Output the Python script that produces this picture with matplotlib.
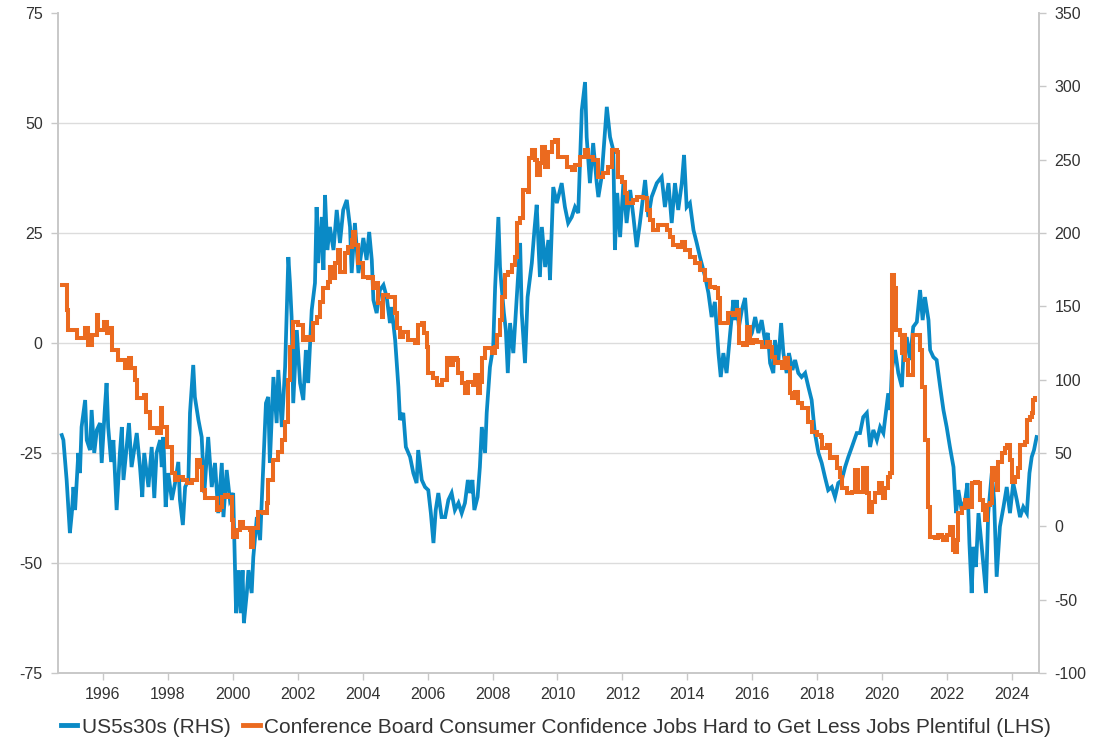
import matplotlib
matplotlib.use("Agg")
import matplotlib.pyplot as plt
from matplotlib.lines import Line2D

# ---------------- data (decimal years) ----------------
orange_years = [1994.73, 1994.88, 1994.93, 1995.19, 1995.45, 1995.55, 1995.65, 1995.81, 1995.86, 1996.04,
                1996.11, 1996.22, 1996.27, 1996.45, 1996.47, 1996.68, 1996.80, 1996.86, 1996.99, 1997.04,
                1997.27, 1997.32, 1997.45, 1997.65, 1997.79, 1997.83, 1997.96, 1998.06, 1998.12, 1998.22,
                1998.32, 1998.47, 1998.58, 1998.73, 1998.89, 1998.99, 1999.04, 1999.14, 1999.45, 1999.50,
                1999.60, 1999.66, 1999.76, 1999.86, 1999.96, 2000.01, 2000.12, 2000.22, 2000.32, 2000.53,
                2000.55, 2000.63, 2000.78, 2000.94, 2001.04, 2001.09, 2001.20, 2001.25, 2001.40, 2001.51,
                2001.61, 2001.71, 2001.76, 2001.86, 2002.02, 2002.17, 2002.28, 2002.38, 2002.48, 2002.58,
                2002.69, 2002.79, 2002.94, 2002.99, 2003.10, 2003.15, 2003.25, 2003.30, 2003.46, 2003.56,
                2003.66, 2003.71, 2003.76, 2003.87, 2003.97, 2004.02, 2004.17, 2004.28, 2004.33, 2004.43,
                2004.48, 2004.59, 2004.64, 2004.79, 2004.89, 2005.00, 2005.05, 2005.15, 2005.25, 2005.41,
                2005.61, 2005.70, 2005.82, 2005.90, 2005.97, 2006.02, 2006.18, 2006.28, 2006.43, 2006.59,
                2006.69, 2006.79, 2006.90, 2006.95, 2007.05, 2007.15, 2007.25, 2007.41, 2007.46, 2007.54,
                2007.61, 2007.69, 2007.77, 2007.92, 2007.97, 2008.08, 2008.13, 2008.23, 2008.28, 2008.38,
                2008.49, 2008.59, 2008.69, 2008.74, 2008.85, 2008.95, 2009.08, 2009.12, 2009.21, 2009.31,
                2009.36, 2009.46, 2009.52, 2009.62, 2009.72, 2009.82, 2009.92, 2010.03, 2010.18, 2010.29,
                2010.44, 2010.54, 2010.69, 2010.85, 2010.95, 2011.10, 2011.26, 2011.41, 2011.57, 2011.67,
                2011.83, 2011.88, 2011.98, 2012.08, 2012.13, 2012.34, 2012.44, 2012.65, 2012.75, 2012.85,
                2012.95, 2013.11, 2013.26, 2013.37, 2013.47, 2013.57, 2013.72, 2013.83, 2013.93, 2014.08,
                2014.24, 2014.39, 2014.55, 2014.70, 2014.85, 2014.96, 2015.01, 2015.21, 2015.26, 2015.42,
                2015.52, 2015.59, 2015.73, 2015.83, 2015.93, 2016.03, 2016.14, 2016.29, 2016.45, 2016.55,
                2016.60, 2016.70, 2016.80, 2016.91, 2017.01, 2017.09, 2017.16, 2017.24, 2017.32, 2017.42,
                2017.54, 2017.68, 2017.73, 2017.83, 2017.99, 2018.12, 2018.16, 2018.30, 2018.40, 2018.50,
                2018.60, 2018.70, 2018.76, 2018.91, 2019.07, 2019.17, 2019.27, 2019.42, 2019.53, 2019.60,
                2019.68, 2019.78, 2019.89, 2019.99, 2020.04, 2020.09, 2020.19, 2020.25, 2020.30, 2020.37,
                2020.43, 2020.55, 2020.61, 2020.66, 2020.71, 2020.81, 2020.91, 2020.96, 2021.07, 2021.17,
                2021.22, 2021.32, 2021.43, 2021.48, 2021.63, 2021.73, 2021.84, 2021.89, 2021.99, 2022.09,
                2022.18, 2022.25, 2022.30, 2022.35, 2022.45, 2022.56, 2022.66, 2022.76, 2022.86, 2022.97,
                2023.02, 2023.12, 2023.17, 2023.22, 2023.33, 2023.38, 2023.48, 2023.53, 2023.58, 2023.69,
                2023.79, 2023.84, 2023.94, 2023.99, 2024.10, 2024.20, 2024.25, 2024.40, 2024.46, 2024.56,
                2024.61, 2024.66, 2024.71]
orange_values = [13.2, 7.5, 3.0, 1.1, 3.4, -0.5, 1.8, 6.4, 3.0, 4.8,
                 2.3, 3.4, -1.6, -1.1, -3.9, -5.7, -3.4, -5.7, -8.4, -12.5,
                 -11.8, -15.7, -19.3, -20.5, -14.8, -19.1, -23.6, -23.6, -29.5, -31.1,
                 -30.5, -31.1, -31.8, -31.1, -26.6, -28.2, -33.4, -35.2, -35.2, -38.0,
                 -37.3, -35.0, -34.5, -35.0, -40.2, -44.0, -42.5, -40.7, -42.0, -42.5,
                 -46.3, -42.0, -38.4, -38.6, -36.4, -31.1, -31.1, -26.6, -24.8, -22.0,
                 -18.0, -8.4, -0.9, 4.8, 4.1, 0.7, 1.4, 0.7, 4.5, 5.9,
                 9.3, 12.5, 13.9, 17.3, 14.8, 18.2, 21.1, 16.1, 20.5, 21.8,
                 23.4, 25.2, 22.3, 18.2, 18.2, 15.0, 14.8, 15.0, 12.5, 13.6,
                 9.1, 5.9, 10.9, 10.5, 10.5, 6.8, 3.4, 1.4, 2.5, 0.7,
                 0.0, 4.1, 4.5, 2.3, -0.9, -6.8, -8.0, -9.5, -8.4, -3.4,
                 -5.0, -3.4, -3.9, -6.8, -9.1, -11.4, -8.9, -9.5, -7.3, -11.4,
                 -8.9, -3.4, -1.1, -1.1, -2.3, -0.9, 1.8, 5.2, 10.5, 15.5,
                 16.1, 17.7, 19.5, 27.3, 28.4, 34.8, 34.3, 42.0, 43.9, 41.6,
                 38.2, 40.9, 44.5, 40.0, 43.4, 45.7, 46.1, 42.3, 42.3, 40.0,
                 39.3, 40.5, 42.3, 43.9, 42.3, 41.6, 37.7, 38.6, 40.0, 43.9,
                 43.4, 37.7, 36.6, 34.1, 31.8, 32.5, 33.2, 33.0, 30.2, 28.0,
                 25.7, 26.8, 26.8, 25.7, 24.1, 22.3, 21.8, 23.0, 21.1, 19.5,
                 18.2, 16.6, 14.3, 12.7, 12.5, 10.3, 4.5, 4.5, 6.8, 6.4,
                 7.5, 0.0, -0.5, 3.6, 0.0, 0.7, 0.2, -0.9, 0.2, -0.9,
                 -3.2, -4.5, -4.3, -5.7, -3.4, -5.7, -11.4, -12.5, -11.1, -13.6,
                 -14.8, -14.8, -18.0, -20.2, -20.9, -21.4, -23.9, -23.2, -26.1, -25.9,
                 -28.4, -30.5, -33.0, -34.1, -33.9, -28.9, -33.9, -28.4, -34.1, -38.4,
                 -36.1, -34.1, -31.8, -34.1, -35.2, -33.0, -30.5, -29.5, 15.5, 12.5,
                 3.0, 1.8, -2.3, 1.8, -3.9, -7.3, -7.3, 1.8, 1.8, -1.6,
                 -10.0, -22.0, -37.3, -44.0, -44.3, -43.6, -44.0, -44.8, -43.6, -41.8,
                 -47.0, -47.5, -44.8, -38.6, -37.5, -35.7, -37.3, -31.8, -31.6, -31.8,
                 -35.7, -38.0, -40.2, -36.8, -36.4, -28.4, -31.1, -33.4, -27.0, -25.0,
                 -23.9, -23.2, -26.6, -31.6, -30.5, -28.4, -23.2, -22.5, -17.5, -16.8,
                 -15.9, -13.0, -12.5]

blue_years = [1994.73, 1994.78, 1994.88, 1994.98, 1995.04, 1995.09, 1995.14, 1995.24, 1995.29, 1995.34,
              1995.45, 1995.50, 1995.60, 1995.65, 1995.73, 1995.81, 1995.91, 1995.96, 1996.06, 1996.11,
              1996.16, 1996.25, 1996.32, 1996.42, 1996.52, 1996.58, 1996.63, 1996.73, 1996.80, 1996.88,
              1997.04, 1997.14, 1997.21, 1997.27, 1997.40, 1997.50, 1997.58, 1997.65, 1997.76, 1997.81,
              1997.86, 1997.93, 1998.01, 1998.12, 1998.22, 1998.32, 1998.37, 1998.46, 1998.53, 1998.63,
              1998.68, 1998.78, 1998.83, 1998.94, 1999.04, 1999.12, 1999.24, 1999.35, 1999.45, 1999.55,
              1999.66, 1999.71, 1999.81, 1999.91, 2000.01, 2000.10, 2000.17, 2000.24, 2000.30, 2000.34,
              2000.43, 2000.48, 2000.58, 2000.63, 2000.74, 2000.84, 2000.94, 2001.02, 2001.09, 2001.14,
              2001.25, 2001.35, 2001.40, 2001.51, 2001.61, 2001.71, 2001.76, 2001.81, 2001.86, 2001.97,
              2002.07, 2002.17, 2002.25, 2002.32, 2002.43, 2002.53, 2002.58, 2002.63, 2002.74, 2002.79,
              2002.84, 2002.91, 2002.99, 2003.10, 2003.20, 2003.30, 2003.40, 2003.51, 2003.61, 2003.66,
              2003.76, 2003.87, 2004.02, 2004.12, 2004.20, 2004.28, 2004.33, 2004.43, 2004.53, 2004.64,
              2004.74, 2004.79, 2004.84, 2004.89, 2005.00, 2005.10, 2005.15, 2005.25, 2005.33, 2005.46,
              2005.56, 2005.66, 2005.71, 2005.82, 2005.92, 2006.02, 2006.10, 2006.18, 2006.25, 2006.33,
              2006.43, 2006.54, 2006.64, 2006.74, 2006.84, 2006.95, 2007.05, 2007.15, 2007.24, 2007.31,
              2007.38, 2007.44, 2007.54, 2007.61, 2007.67, 2007.77, 2007.82, 2007.92, 2008.02, 2008.08,
              2008.18, 2008.23, 2008.28, 2008.35, 2008.41, 2008.47, 2008.54, 2008.64, 2008.74, 2008.85,
              2008.90, 2009.00, 2009.08, 2009.21, 2009.29, 2009.36, 2009.46, 2009.52, 2009.62, 2009.72,
              2009.77, 2009.87, 2009.98, 2010.13, 2010.23, 2010.33, 2010.44, 2010.54, 2010.64, 2010.75,
              2010.85, 2010.90, 2011.00, 2011.10, 2011.21, 2011.26, 2011.36, 2011.52, 2011.62, 2011.72,
              2011.77, 2011.84, 2011.93, 2012.03, 2012.13, 2012.24, 2012.34, 2012.44, 2012.54, 2012.70,
              2012.80, 2012.90, 2013.06, 2013.21, 2013.31, 2013.42, 2013.52, 2013.62, 2013.72, 2013.83,
              2013.90, 2013.98, 2014.08, 2014.19, 2014.29, 2014.39, 2014.55, 2014.65, 2014.75, 2014.85,
              2014.96, 2015.03, 2015.11, 2015.21, 2015.32, 2015.42, 2015.47, 2015.52, 2015.59, 2015.68,
              2015.78, 2015.88, 2015.99, 2016.09, 2016.19, 2016.29, 2016.39, 2016.48, 2016.55, 2016.65,
              2016.70, 2016.80, 2016.89, 2016.96, 2017.06, 2017.13, 2017.24, 2017.32, 2017.42, 2017.52,
              2017.63, 2017.73, 2017.83, 2017.93, 2018.04, 2018.14, 2018.24, 2018.34, 2018.45, 2018.55,
              2018.65, 2018.76, 2018.86, 2018.96, 2019.07, 2019.22, 2019.32, 2019.42, 2019.53, 2019.63,
              2019.73, 2019.84, 2019.94, 2020.04, 2020.19, 2020.25, 2020.30, 2020.40, 2020.50, 2020.61,
              2020.66, 2020.76, 2020.86, 2020.96, 2021.07, 2021.17, 2021.25, 2021.32, 2021.43, 2021.48,
              2021.58, 2021.68, 2021.79, 2021.89, 2021.99, 2022.09, 2022.20, 2022.28, 2022.35, 2022.45,
              2022.56, 2022.63, 2022.69, 2022.76, 2022.81, 2022.89, 2022.97, 2023.07, 2023.20, 2023.27,
              2023.38, 2023.45, 2023.53, 2023.63, 2023.74, 2023.84, 2023.94, 2024.04, 2024.15, 2024.25,
              2024.35, 2024.46, 2024.54, 2024.61, 2024.68, 2024.76]
blue_values = [62.2, 58.8, 31.6, -4.6, 9.0, 26.8, 11.1, 50.0, 36.3, 67.7,
               86.1, 58.8, 52.0, 79.3, 50.0, 65.7, 70.4, 43.2, 81.3, 97.7,
               67.7, 43.9, 58.8, 11.1, 50.0, 67.7, 31.6, 54.1, 70.4, 40.4,
               63.6, 40.4, 20.0, 50.0, 26.8, 54.1, 19.3, 50.0, 58.8, 40.4,
               60.9, 13.2, 36.3, 18.0, 29.5, 43.9, 18.0, 0.9, 26.8, 31.6,
               77.3, 110.0, 88.2, 72.5, 60.9, 22.7, 60.9, 26.8, 43.2, 9.0,
               43.2, 6.3, 38.4, 18.0, 22.7, -59.2, -29.9, -59.2, -29.9, -66.0,
               -45.5, -29.9, -45.5, -21.0, 6.3, -9.4, 43.2, 84.0, 88.2, 43.2,
               101.8, 70.4, 106.6, 67.7, 108.6, 183.6, 165.9, 142.7, 84.0, 133.8,
               97.7, 86.1, 120.2, 97.7, 147.5, 165.9, 217.7, 179.5, 210.9, 174.8,
               225.9, 188.4, 204.1, 188.4, 215.7, 193.2, 215.7, 222.5, 204.1, 172.7,
               206.8, 172.7, 196.6, 181.6, 200.7, 181.6, 154.3, 145.4, 161.1, 164.5,
               156.3, 147.5, 138.6, 149.5, 127.0, 95.0, 72.5, 77.3, 54.1, 47.3,
               36.3, 29.5, 52.0, 31.6, 26.8, 24.7, 9.0, -11.4, 11.1, 22.7,
               6.3, 6.3, 18.0, 22.7, 11.1, 15.9, 9.0, 15.9, 31.6, 22.7,
               31.6, 11.1, 20.0, 40.4, 67.7, 50.0, 77.3, 108.6, 122.3, 163.2,
               210.9, 176.8, 163.2, 145.4, 133.8, 104.5, 138.6, 118.1, 154.3, 193.2,
               145.4, 111.3, 156.3, 179.5, 202.0, 219.2, 170.0, 204.1, 176.8, 195.2,
               167.9, 231.3, 220.4, 234.0, 217.7, 206.8, 210.9, 217.7, 213.6, 283.8,
               302.9, 265.4, 234.0, 261.3, 234.0, 224.5, 238.2, 286.0, 265.4, 256.5,
               188.4, 227.3, 197.2, 234.0, 206.8, 229.3, 210.9, 190.4, 206.8, 236.1,
               210.9, 224.5, 234.0, 238.2, 217.7, 234.0, 206.8, 234.0, 215.7, 234.0,
               253.2, 217.7, 220.4, 202.0, 193.2, 183.6, 170.0, 159.1, 142.7, 153.0,
               118.0, 101.8, 118.1, 104.5, 131.8, 154.3, 140.6, 154.3, 136.0, 147.5,
               155.7, 127.0, 131.8, 142.7, 131.8, 140.6, 127.0, 131.8, 111.3, 104.5,
               127.0, 111.3, 138.6, 118.1, 104.5, 118.1, 106.6, 113.4, 104.5, 101.8,
               104.5, 95.0, 86.1, 63.6, 50.0, 43.2, 33.6, 24.7, 26.8, 20.0,
               29.5, 31.6, 40.4, 47.3, 54.1, 63.6, 63.6, 74.5, 77.3, 54.1,
               65.7, 58.8, 67.7, 63.6, 90.7, 79.3, 106.6, 120.2, 104.5, 95.0,
               118.1, 129.0, 113.4, 136.0, 139.3, 161.1, 140.6, 156.3, 140.6, 120.2,
               115.4, 113.4, 95.0, 79.3, 67.7, 54.1, 40.4, 9.0, 24.7, 11.1,
               18.0, 29.5, -11.4, -45.5, -14.0, -27.7, 9.0, -14.0, -45.5, 9.0,
               36.3, 18.0, -34.4, -0.2, 13.2, 26.8, 9.0, 29.5, 18.0, 6.3,
               13.2, 9.0, 36.3, 47.3, 52.0, 60.9]

assert len(orange_years) == len(orange_values)
assert len(blue_years) == len(blue_values)

left_ticks = [-75, -50, -25, 0, 25, 50, 75]
right_ticks = [-100, -50, 0, 50, 100, 150, 200, 250, 300, 350]
year_ticks = list(range(1996, 2025, 2))

blue_label = "US5s30s (RHS)"
orange_label = "Conference Board Consumer Confidence Jobs Hard to Get Less Jobs Plentiful (LHS)"

# ---------------- style ----------------
BLUE = "#0A8AC6"
ORANGE = "#EB6A1F"
GRID = "#DCDCDC"
SPINE = "#C8C8C8"
TXT = "#333333"
plt.rcParams["font.family"] = ["Liberation Sans", "DejaVu Sans"]

fig = plt.figure(figsize=(11.07, 7.42), dpi=100)
ax = fig.add_axes([0.0524, 0.0930, 0.9386 - 0.0524, 0.9825 - 0.0930])
ax2 = ax.twinx()

L_LIM = (-75, 75)
R_LIM = (-100, 350)
ax.set_ylim(*L_LIM)
ax2.set_ylim(*R_LIM)
ax.set_xlim(1994.614, 2024.835)

# gridlines (left-axis values), drawn on the lower-level axis so lines sit on top
for v in left_ticks[1:-1]:
    rv = R_LIM[0] + (v - L_LIM[0]) / (L_LIM[1] - L_LIM[0]) * (R_LIM[1] - R_LIM[0])
    ax2.axhline(rv, color=GRID, lw=1.0, zorder=0)

ax2.plot(blue_years, blue_values, color=BLUE, lw=2.7, solid_joinstyle="miter", zorder=2)
ax.plot(orange_years, orange_values, color=ORANGE, lw=2.9, drawstyle="steps-post",
        solid_joinstyle="miter", zorder=3)

# put orange (left axis) above blue
ax.set_zorder(ax2.get_zorder() + 1)
ax.patch.set_visible(False)

ax.set_yticks(left_ticks)
ax.set_yticklabels([str(t) for t in left_ticks])
ax2.set_yticks(right_ticks)
ax2.set_yticklabels([str(t) for t in right_ticks])
ax.set_xticks(year_ticks)
ax.set_xticklabels([str(y) for y in year_ticks])

for a in (ax, ax2):
    a.spines["top"].set_visible(False)
    for s in ("left", "right", "bottom"):
        a.spines[s].set_color(SPINE)
        a.spines[s].set_linewidth(1.2)
    a.tick_params(colors=SPINE, labelcolor=TXT, labelsize=11.5, length=5, width=1)
ax.tick_params(axis="y", pad=6)
ax2.tick_params(axis="y", pad=6)
ax.tick_params(axis="x", pad=5)

handles = [Line2D([0], [0], color=BLUE, lw=3.5), Line2D([0], [0], color=ORANGE, lw=3.5)]
fig.legend(handles, [blue_label, orange_label], loc="lower center", bbox_to_anchor=(0.502, -0.018),
           ncol=2, frameon=False, fontsize=15, handlelength=0.8, handletextpad=0.2,
           columnspacing=0.6, labelcolor=TXT)

fig.savefig("out.png", dpi=100)
